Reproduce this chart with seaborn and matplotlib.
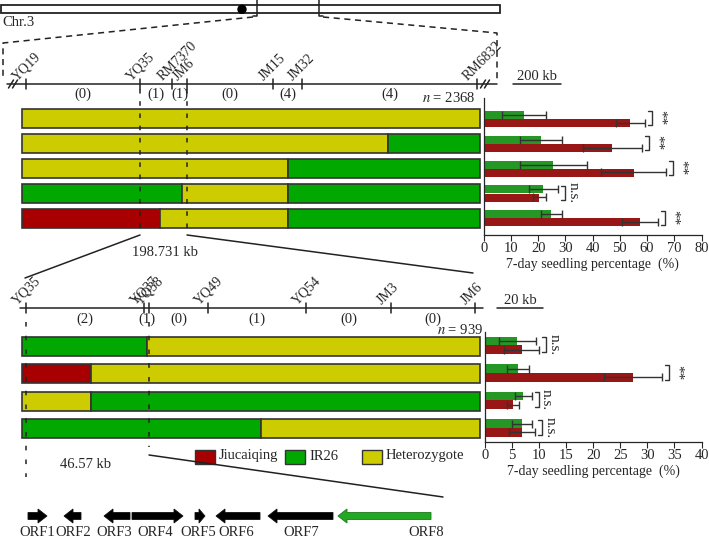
import matplotlib
matplotlib.use("Agg")
import matplotlib.pyplot as plt
from matplotlib.patches import Rectangle, Circle, FancyArrow
import numpy as np
import pandas as pd
import seaborn as sns

# ---- data ----
top_markers = ["YQ19", "YQ35", "RM7370", "JM6", "JM15", "JM32", "RM6832"]
top_marker_x = [26, 140, 172, 187, 273, 302, 477]
top_recomb = [0, 1, 1, 0, 4, 4]

low_markers = ["YQ35", "YQ37", "YQ38", "YQ49", "YQ54", "JM3", "JM6"]
low_marker_x = [26, 144, 149, 208, 306, 391, 475]
low_recomb = [2, 1, 0, 1, 0, 0]

# genotype segments per recombinant: (start, end, genotype)
top_geno = [
    [(22, 480, "H")],
    [(22, 388, "H"), (388, 480, "I")],
    [(22, 288, "H"), (288, 480, "I")],
    [(22, 182, "I"), (182, 288, "H"), (288, 480, "I")],
    [(22, 160, "J"), (160, 288, "H"), (288, 480, "I")],
]
low_geno = [
    [(22, 147, "I"), (147, 480, "H")],
    [(22, 91, "J"), (91, 480, "H")],
    [(22, 91, "H"), (91, 480, "I")],
    [(22, 261, "I"), (261, 480, "H")],
]

top_green = [14.7, 21.1, 25.5, 21.9, 24.9]
top_green_sd = [8.0, 7.6, 12.3, 5.3, 4.0]
top_red = [53.9, 47.3, 55.1, 20.4, 57.5]
top_red_sd = [5.3, 10.9, 11.9, 2.3, 6.7]
top_sig = ["**", "**", "**", "n.s.", "**"]

low_green = [6.0, 6.1, 7.1, 6.8]
low_green_sd = [3.5, 2.0, 1.5, 1.8]
low_red = [6.8, 27.3, 5.1, 6.8]
low_red_sd = [3.2, 5.4, 1.1, 2.4]
low_sig = ["n.s.", "**", "n.s.", "n.s."]

orf_names = ["ORF1", "ORF2", "ORF3", "ORF4", "ORF5", "ORF6", "ORF7", "ORF8"]
orf_start = [28, 64, 104, 132, 195, 216, 268, 338]
orf_end = [47, 81, 130, 183, 205, 260, 333, 431]
orf_strand = [1, -1, -1, 1, 1, -1, -1, -1]
orf_label_x = [37, 73, 114, 155, 198, 236, 301, 426]

geno_colors = {"J": "#A80000", "I": "#00A800", "H": "#CCCC00"}
bar_green = "#12AA12"
bar_red = "#AE0000"

sns.set_style("ticks")
plt.rcParams["font.family"] = ["Liberation Serif", "DejaVu Serif"]
plt.rcParams["mathtext.fontset"] = "stix"

W, H = 709, 541
fig = plt.figure(figsize=(W / 100, H / 100), dpi=100)
cv = fig.add_axes([0, 0, 1, 1])
cv.set_xlim(0, W)
cv.set_ylim(H, 0)
cv.axis("off")

FS = 10.5
dash = (0, (4, 3))

# chromosome
cv.add_patch(Rectangle((1, 4.5), 499, 8.2, fc="white", ec="#222", lw=1.3))
cv.add_patch(Circle((242, 9.3), 4, color="black"))
cv.plot([257, 257, 253], [0, 16, 16], color="#222", lw=1.1)
cv.plot([319, 319, 323], [0, 16, 16], color="#222", lw=1.1)
cv.text(2, 23, "Chr.3", fontsize=FS, va="center")
cv.plot([253, 3, 3], [17, 43, 80], color="#222", lw=1.1, ls=dash)
cv.plot([323, 497, 497], [17, 33, 80], color="#222", lw=1.1, ls=dash)


def draw_map(y, x0, x1, names, xs, counts, ylab, breaks=()):
    cv.plot([x0, x1], [y, y], color="#222", lw=1.1)
    for nm, x in zip(names, xs):
        cv.plot([x, x], [y - 5, y + 5], color="#222", lw=1.1)
        cv.text(x - 9, y - 3, nm, rotation=45, rotation_mode="anchor",
                ha="left", va="baseline", fontsize=10)
    for c, a, b in zip(counts, xs[:-1], xs[1:]):
        cv.text((a + b) / 2, ylab, f"({c})", ha="center", va="center", fontsize=FS)
    for bx in breaks:
        for off in (-2, 2):
            cv.plot([bx + off - 2.5, bx + off + 2.5], [y + 4, y - 4], color="#222", lw=1.1)


def draw_geno(rows, y0, pitch, h):
    for i, segs in enumerate(rows):
        for a, b, g in segs:
            cv.barh(y0 + i * pitch, b - a, left=a, height=h, color=geno_colors[g],
                    edgecolor="#333", linewidth=1.2)


draw_map(84, 7, 497, top_markers, top_marker_x, top_recomb, 94, breaks=(13, 485))
cv.text(475, 98, "$n$ = 2368", ha="right", va="center", fontsize=FS)
draw_geno(top_geno, 118.5, 25, 19)
for x in (140, 187):
    cv.plot([x, x], [89, 234], color="#222", lw=1.1, ls=(0, (3, 5)))
cv.plot([140, 25], [235, 278], color="#222", lw=1.1)
cv.plot([187, 473], [235, 273], color="#222", lw=1.1)
cv.text(165, 252, "198.731 kb", ha="center", va="center", fontsize=FS)
cv.plot([513, 561], [84, 84], color="#222", lw=1.1)
cv.text(537, 76, "200 kb", ha="center", va="center", fontsize=FS)

draw_map(308, 20, 483, low_markers, low_marker_x, low_recomb, 319)
cv.text(483, 330, "$n$ = 939", ha="right", va="center", fontsize=FS)
draw_geno(low_geno, 346.5, 27.3, 19)
cv.plot([26, 26], [322, 477], color="#222", lw=1.1, ls=(0, (3, 6)))
cv.plot([149, 149], [322, 447], color="#222", lw=1.1, ls=(0, (3, 6)))
cv.plot([149, 443], [455, 497], color="#222", lw=1.1)
cv.text(60, 465, "46.57 kb", ha="left", va="center", fontsize=FS)
cv.plot([497, 543], [308, 308], color="#222", lw=1.1)
cv.text(520, 301, "20 kb", ha="center", va="center", fontsize=FS)

# legend
for lx, key, lab in [(195, "J", "Jiucaiqing"), (285, "I", "IR26"), (362, "H", "Heterozygote")]:
    cv.add_patch(Rectangle((lx, 450), 20, 14, fc=geno_colors[key], ec="#333", lw=1.0))
    cv.text(lx + 24, 456, lab, ha="left", va="center", fontsize=FS)

# ORFs
for nm, a, b, s, lx in zip(orf_names, orf_start, orf_end, orf_strand, orf_label_x):
    L = b - a
    x = a if s > 0 else b
    col = "#22A822" if nm == "ORF8" else "black"
    cv.add_patch(FancyArrow(x, 516, s * L, 0, width=7, head_width=14,
                            head_length=min(9, L * 0.6), length_includes_head=True,
                            fc=col, ec="#111" if nm != "ORF8" else "#1a7a1a", lw=0.6))
    cv.text(lx, 532, nm, ha="center", va="center", fontsize=FS)


def bar_panel(rect, green, gsd, red, rsd, sig, xmax, step, ylim):
    l, t, r, b = rect
    ax = fig.add_axes([l / W, 1 - b / H, (r - l) / W, (b - t) / H])
    rows = [f"r{i}" for i in range(len(green))]
    df = pd.DataFrame({"row": rows * 2,
                       "line": ["g"] * len(green) + ["r"] * len(red),
                       "value": green + red})
    sns.barplot(data=df, x="value", y="row", hue="line", order=rows,
                hue_order=["g", "r"], palette={"g": bar_green, "r": bar_red},
                orient="h", width=0.64, errorbar=None, legend=False,
                linewidth=0, ax=ax)
    for cont, vals, sds in zip(ax.containers, [green, red], [gsd, rsd]):
        ys = [p.get_y() + p.get_height() / 2 for p in cont]
        ax.errorbar(vals, ys, xerr=sds, fmt="none", ecolor="#333",
                    elinewidth=1.0, capsize=3, capthick=1.0)
    ax.set_xlim(0, xmax)
    ax.set_ylim(*ylim)
    ppu = (r - l) / xmax
    for i, s in enumerate(sig):
        xb = max(green[i] + gsd[i], red[i] + rsd[i]) + 3 / ppu
        w = 4 / ppu
        y0, y1 = i - 0.3, i + 0.25
        ax.plot([xb, xb + w, xb + w, xb], [y0, y0, y1, y1], color="#333", lw=1.0,
                clip_on=False)
        ax.text(xb + w + 1.5 / ppu, (y0 + y1) / 2, s, rotation=-90, ha="left",
                va="center", fontsize=11, clip_on=False)
    ax.set_xticks(np.arange(0, xmax + 0.1, step))
    ax.set_yticks([])
    ax.set_ylabel("")
    ax.set_xlabel("7-day seedling percentage  (%)", fontsize=10, labelpad=2)
    ax.tick_params(axis="x", labelsize=FS, length=4, width=0.8, pad=1)
    sns.despine(ax=ax)
    for sp in ("left", "bottom"):
        ax.spines[sp].set_linewidth(0.9)
    ax.patch.set_alpha(0)
    return ax


bar_panel((483.7, 98, 701.5, 235), top_green, top_green_sd, top_red, top_red_sd,
          top_sig, 80, 10, (4.66, -0.82))
bar_panel((485, 332, 701.5, 442), low_green, low_green_sd, low_red, low_red_sd,
          low_sig, 40, 5, (3.51, -0.49))

fig.savefig("out.png", dpi=100)
